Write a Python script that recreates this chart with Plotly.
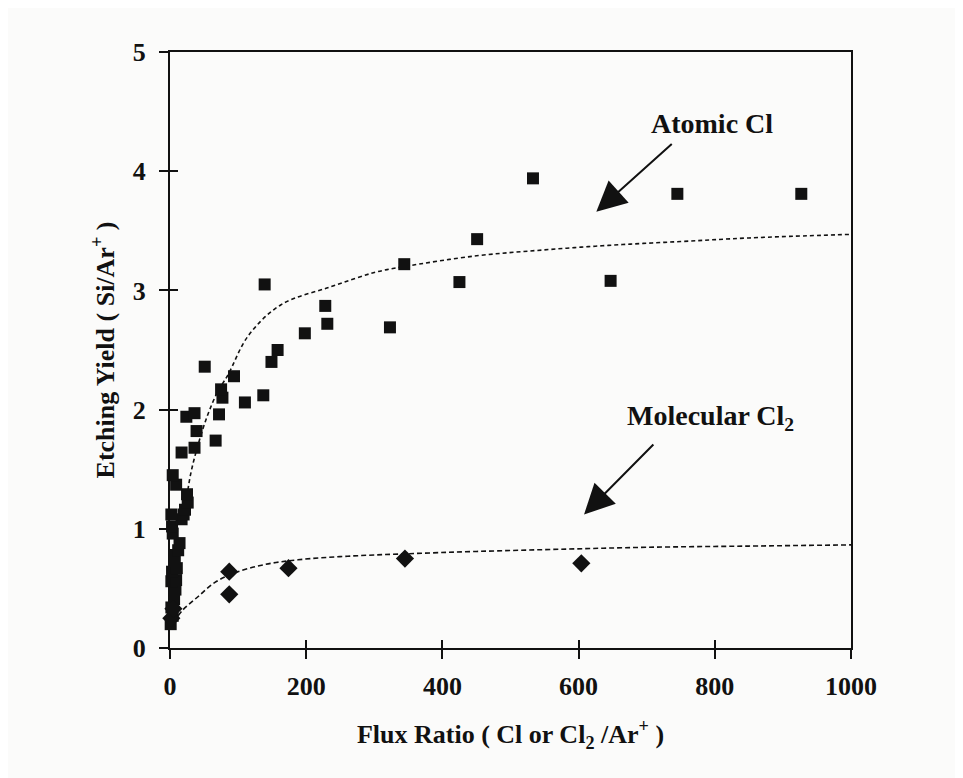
import plotly.graph_objects as go

# values
atomic_x = [1, 4, 2, 6, 8, 2, 9, 3, 10, 7, 6, 12, 14, 4, 3, 17, 2, 20, 22, 26, 25,
            9, 4, 17, 36, 67, 39, 24, 36, 72, 110, 77, 75, 137, 94, 51, 149, 158,
            198, 231, 228, 139, 323, 344, 425, 451, 533, 647, 745, 927]
atomic_y = [0.20, 0.27, 0.34, 0.41, 0.49, 0.56, 0.57, 0.64, 0.67, 0.73, 0.78, 0.82,
            0.88, 0.96, 1.02, 1.08, 1.12, 1.12, 1.16, 1.22, 1.29, 1.37, 1.45, 1.64,
            1.68, 1.74, 1.82, 1.94, 1.97, 1.96, 2.06, 2.10, 2.17, 2.12, 2.28, 2.36,
            2.40, 2.50, 2.64, 2.72, 2.87, 3.05, 2.69, 3.22, 3.07, 3.43, 3.94, 3.08,
            3.81, 3.81]

molecular_x = [2, 5, 87, 87, 174, 345, 604]
molecular_y = [0.25, 0.33, 0.64, 0.45, 0.67, 0.75, 0.71]

# dotted fit curves as traced on the picture
atomic_fit_x = [22, 30, 41, 55, 70, 85, 115, 163, 236, 300, 344, 450, 550, 650, 750, 850, 1000]
atomic_fit_y = [1.15, 1.45, 1.70, 1.95, 2.15, 2.29, 2.62, 2.88, 3.03, 3.15, 3.20, 3.29,
                3.34, 3.38, 3.41, 3.44, 3.47]
molecular_fit_x = [12, 19, 41, 66, 95, 139, 188, 261, 345, 450, 584, 700, 850, 1000]
molecular_fit_y = [0.27, 0.32, 0.43, 0.55, 0.63, 0.70, 0.74, 0.77, 0.79, 0.81, 0.83,
                   0.845, 0.855, 0.865]

x_ticks = [0, 200, 400, 600, 800, 1000]
y_ticks = [0, 1, 2, 3, 4, 5]

FONT = "Liberation Serif"
INK = "#111111"

fig = go.Figure()

fig.add_trace(go.Scatter(x=atomic_fit_x, y=atomic_fit_y, mode="lines", line_shape="spline",
                         line=dict(color=INK, width=1.6, dash="4px,3px"), showlegend=False))
fig.add_trace(go.Scatter(x=molecular_fit_x, y=molecular_fit_y, mode="lines", line_shape="spline",
                         line=dict(color=INK, width=1.6, dash="5px,3px"), showlegend=False))
fig.add_trace(go.Scatter(x=atomic_x, y=atomic_y, mode="markers", cliponaxis=False,
                         marker=dict(symbol="square", size=12, color=INK), showlegend=False))
fig.add_trace(go.Scatter(x=molecular_x, y=molecular_y, mode="markers", cliponaxis=False,
                         marker=dict(symbol="diamond", size=14, color=INK), showlegend=False))
# dummy trace so the overlay axes (inner half of the crossing ticks) get drawn
fig.add_trace(go.Scatter(x=[500], y=[2.5], xaxis="x2", yaxis="y2", mode="markers",
                         marker=dict(opacity=0), showlegend=False, hoverinfo="skip"))

axis_common = dict(showgrid=False, zeroline=False, color=INK)
bold26 = dict(family=FONT, size=26, color=INK, weight="bold")

fig.update_layout(
    width=963, height=778,
    margin=dict(l=162, r=120, t=44, b=138),
    paper_bgcolor="#fbfbfa", plot_bgcolor="#fbfbfa",
    font=dict(family=FONT, color=INK, size=26),
    xaxis=dict(range=[0, 1000], tickvals=x_ticks, ticks="outside", ticklen=9, tickwidth=2,
               showline=True, linewidth=2, linecolor=INK, mirror=True,
               tickfont=bold26, ticklabelstandoff=5,
               title=dict(text="Flux Ratio ( Cl or Cl<sub>2</sub> /Ar<sup>+</sup> )",
                          font=bold26, standoff=25),
               **axis_common),
    yaxis=dict(range=[0, 5], tickvals=y_ticks, ticks="outside", ticklen=9, tickwidth=2,
               showline=True, linewidth=2, linecolor=INK, mirror=True,
               tickfont=bold26, ticklabelstandoff=8,
               title=dict(text="Etching Yield ( Si/Ar<sup>+</sup> )",
                          font=bold26, standoff=11),
               **axis_common),
    xaxis2=dict(range=[0, 1000], tickvals=x_ticks, ticks="inside", ticklen=8, tickwidth=2,
                overlaying="x", anchor="y", side="bottom", showticklabels=False,
                showline=False, **axis_common),
    yaxis2=dict(range=[0, 5], tickvals=y_ticks, ticks="inside", ticklen=8, tickwidth=2,
                overlaying="y", anchor="x", side="left", showticklabels=False,
                showline=False, **axis_common),
)

bold28 = dict(family=FONT, size=28, color=INK, weight="bold")
fig.add_annotation(x=796, y=4.40, text="Atomic Cl", showarrow=False, font=bold28)
fig.add_annotation(x=626, y=3.66, ax=739, ay=4.24, axref="x", ayref="y", text="",
                   showarrow=True, arrowhead=2, arrowsize=3, arrowwidth=2, arrowcolor=INK)
fig.add_annotation(x=793, y=1.93, text="Molecular Cl<sub>2</sub>", showarrow=False, font=bold28)
fig.add_annotation(x=608, y=1.12, ax=712, ay=1.72, axref="x", ayref="y", text="",
                   showarrow=True, arrowhead=2, arrowsize=3, arrowwidth=2, arrowcolor=INK)

fig.write_html("out.html")
